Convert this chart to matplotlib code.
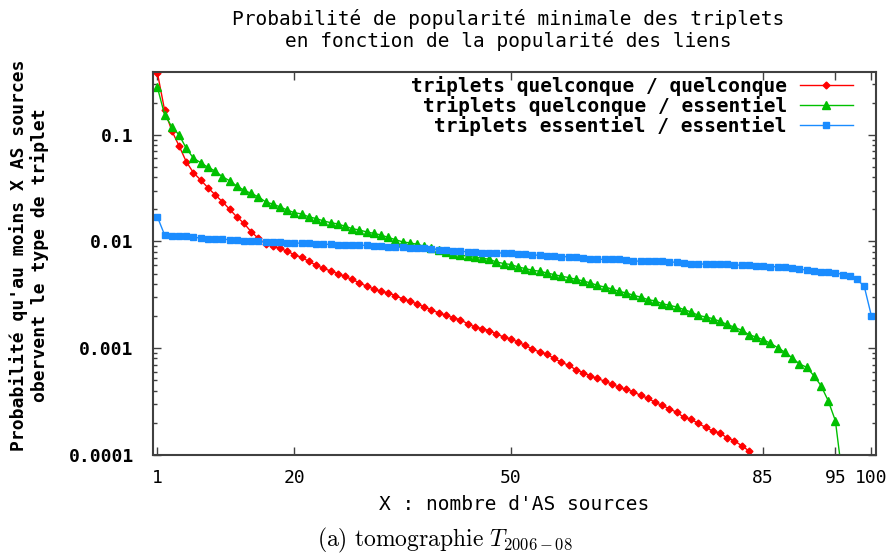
import matplotlib
matplotlib.use("Agg")
import matplotlib.pyplot as plt
from matplotlib.ticker import FixedLocator, LogLocator, NullFormatter, FixedFormatter

# ---------------- data ----------------
x_red = list(range(1, 85))
y_red = [0.38, 0.17, 0.109, 0.0787, 0.056, 0.044, 0.0377, 0.0319, 0.0274, 0.0236,
         0.0201, 0.0170, 0.0148, 0.0123, 0.0107, 0.0095, 0.0090, 0.0086, 0.0081, 0.0075,
         0.0071, 0.0065, 0.0060, 0.0056, 0.0053, 0.0050, 0.0047, 0.0044, 0.0041, 0.0038,
         0.0036, 0.0034, 0.0033, 0.0031, 0.0029, 0.00275, 0.0026, 0.00243, 0.00228, 0.00214,
         0.00203, 0.00193, 0.00184, 0.00170, 0.00158, 0.00152, 0.00146, 0.00136, 0.00127, 0.00122,
         0.00114, 0.00106, 0.00098, 0.00092, 0.00088, 0.00080, 0.00074, 0.00069, 0.00063, 0.00059,
         0.00055, 0.00052, 0.00049, 0.00046, 0.00043, 0.00041, 0.00039, 0.00036, 0.00034, 0.00031,
         0.00029, 0.00027, 0.00025, 0.000225, 0.000215, 0.000197, 0.000181, 0.000167, 0.000160, 0.000144,
         0.000135, 0.000122, 0.000109, 0.000085]

x_green = list(range(1, 97))
y_green = [0.278, 0.154, 0.119, 0.0998, 0.0748, 0.0603, 0.0548, 0.0496, 0.0458, 0.0405,
           0.0371, 0.0331, 0.0303, 0.0282, 0.0262, 0.0235, 0.0224, 0.0211, 0.0197, 0.0186,
           0.0181, 0.0170, 0.0164, 0.0156, 0.0150, 0.0146, 0.0139, 0.0132, 0.0128, 0.0123,
           0.0119, 0.0115, 0.0109, 0.0104, 0.0099, 0.0097, 0.0094, 0.0090, 0.0086, 0.0083,
           0.0080, 0.0077, 0.0074, 0.0073, 0.0071, 0.0070, 0.0068, 0.00643, 0.00621, 0.00608,
           0.00577, 0.00557, 0.00537, 0.00526, 0.00507, 0.00489, 0.00472, 0.00459, 0.00442, 0.00427,
           0.00409, 0.00388, 0.00374, 0.00359, 0.00341, 0.00329, 0.00313, 0.00301, 0.00285, 0.00277,
           0.00261, 0.00252, 0.00243, 0.00230, 0.00218, 0.00203, 0.00196, 0.00189, 0.00178, 0.00167,
           0.00157, 0.00147, 0.00134, 0.00127, 0.00120, 0.00111, 0.00101, 0.000916, 0.000812, 0.000713,
           0.000662, 0.000553, 0.000446, 0.000322, 0.000209, 0.00006]

x_blue = list(range(1, 101))
y_blue = [0.0170, 0.0115, 0.0113, 0.0112, 0.0112, 0.0109, 0.0108, 0.0106, 0.0105, 0.0105,
          0.0104, 0.0103, 0.0102, 0.0101, 0.0100, 0.0099, 0.0098, 0.0098, 0.0097, 0.0097,
          0.0096, 0.0096, 0.0095, 0.0094, 0.0094, 0.0093, 0.0093, 0.0092, 0.0092, 0.0092,
          0.0091, 0.0090, 0.0089, 0.0088, 0.0088, 0.0087, 0.0086, 0.0086, 0.0085, 0.0084,
          0.0083, 0.0082, 0.0081, 0.0080, 0.0079, 0.0078, 0.0078, 0.0078, 0.0078, 0.0078,
          0.0077, 0.0076, 0.0075, 0.0074, 0.0073, 0.0073, 0.0072, 0.0072, 0.0071, 0.0070,
          0.0069, 0.0068, 0.0068, 0.0068, 0.0068, 0.0067, 0.0066, 0.0065, 0.0065, 0.0065,
          0.0065, 0.0064, 0.0064, 0.0063, 0.0062, 0.0062, 0.0061, 0.0061, 0.0061, 0.0061,
          0.0060, 0.0060, 0.0060, 0.0059, 0.0059, 0.0058, 0.0058, 0.0057, 0.0056, 0.0055,
          0.0054, 0.0053, 0.0052, 0.0052, 0.0051, 0.0049, 0.0047, 0.0044, 0.0038, 0.0020]

labels = ["triplets quelconque / quelconque",
          "triplets quelconque / essentiel",
          "triplets essentiel / essentiel"]
xticks = [1, 20, 50, 85, 95, 100]
yticks = [0.0001, 0.001, 0.01, 0.1]
ytick_labels = ["0.0001", "0.001", "0.01", "0.1"]

title = "Probabilité de popularité minimale des triplets\nen fonction de la popularité des liens"
xlabel = "X : nombre d'AS sources"
ylabel = "Probabilité qu'au moins X AS sources\nobervent le type de triplet"
caption = r"$\mathrm{(a)\ tomographie}\ T_{2006-08}$"

# ---------------- plot ----------------
plt.rcParams['mathtext.fontset'] = 'cm'
mono = 'DejaVu Sans Mono'

fig = plt.figure(figsize=(8.9, 5.56), dpi=100)
ax = fig.add_axes([0.172, 0.182, 0.812, 0.689])

ax.plot(x_red, y_red, color='#ff0000', lw=1, marker='D', ms=3.5, label=labels[0])
ax.plot(x_green, y_green, color='#00c000', lw=1, marker='^', ms=6, label=labels[1])
ax.plot(x_blue, y_blue, color='#1a8cff', lw=1, marker='s', ms=5, label=labels[2])

ax.set_yscale('log')
ax.set_xlim(0.4, 100.6)
ax.set_ylim(1e-4, 0.39)

ax.xaxis.set_major_locator(FixedLocator(xticks))
ax.set_xticklabels([str(t) for t in xticks], fontfamily=mono, fontsize=13)
ax.yaxis.set_major_locator(FixedLocator(yticks))
ax.yaxis.set_major_formatter(FixedFormatter(ytick_labels))
ax.yaxis.set_minor_locator(LogLocator(base=10, subs=range(2, 10), numticks=20))
ax.yaxis.set_minor_formatter(NullFormatter())
for lab in ax.get_yticklabels():
    lab.set_fontfamily(mono)
    lab.set_fontweight('bold')
    lab.set_fontsize(13)

ax.tick_params(which='both', direction='in', top=True, right=True, color='#404040')
ax.tick_params(which='major', length=6, width=1)
ax.tick_params(axis='y', which='major', pad=14)
ax.tick_params(axis='x', which='major', pad=10)
ax.tick_params(which='minor', length=3, width=1)
for s in ax.spines.values():
    s.set_color('#404040')
    s.set_linewidth(1.5)

leg = ax.legend(loc='upper right', frameon=False, markerfirst=False, numpoints=1,
                prop={'family': mono, 'weight': 'bold', 'size': 14},
                handlelength=2.75, handletextpad=0.65, labelspacing=0.0,
                borderpad=0, borderaxespad=0,
                bbox_to_anchor=(853 / 890, 1 - 76 / 556), bbox_transform=fig.transFigure)
for t in leg.get_texts():
    t.set_ha('right')

fig.text(0.571, 0.984, title, ha='center', va='top', fontfamily=mono,
         fontsize=14, linespacing=1.15)
fig.text(0.578, 0.092, xlabel, ha='center', va='center', fontfamily=mono,
         fontsize=14)
fig.text(0.033, 1 - 255 / 556, ylabel, ha='center', va='center', rotation=90,
         fontfamily=mono, fontweight='bold', fontsize=13, linespacing=1.15)
fig.text(0.5, 0.028, caption, ha='center', va='center', fontsize=17)

fig.savefig('out.png', dpi=100)
